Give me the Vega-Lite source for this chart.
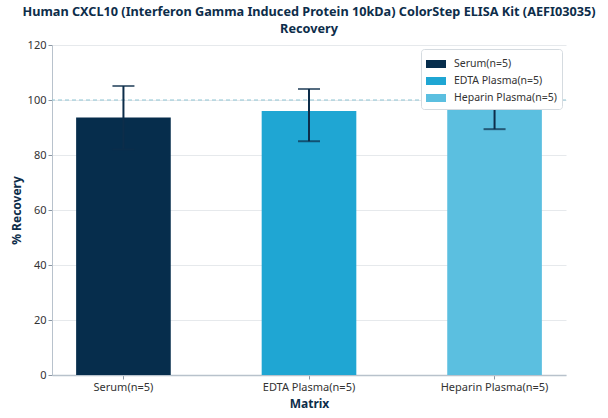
{
  "$schema": "https://vega.github.io/schema/vega-lite/v6.json",
  "width": 514,
  "height": 330,
  "autosize": {"type": "none"},
  "padding": {"left": 52, "top": 45, "right": 42, "bottom": 43},
  "background": "white",
  "config": {
    "font": "Noto Sans",
    "view": {"stroke": null},
    "axis": {"labelFont": "Noto Sans", "titleFont": "Noto Sans", "labelFontSize": 11, "labelColor": "#333333", "titleColor": "#0d2d4a", "titleFontSize": 12, "titleFontWeight": "bold", "domainColor": "#b8c2cc", "tickColor": "#8a96a3", "gridColor": "#e6e9ec"}
  },
  "title": {
    "text": ["Human CXCL10 (Interferon Gamma Induced Protein 10kDa) ColorStep ELISA Kit (AEFI03035)", "Recovery"],
    "font": "Noto Sans",
    "fontSize": 12.7,
    "fontWeight": "bold",
    "color": "#0d2d4a",
    "anchor": "middle",
    "offset": 3,
    "lineHeight": 17
  },
  "data": {
    "values": [
      {"Matrix": "Serum(n=5)", "Recovery": 93.6, "Low": 82.1, "High": 105.1},
      {"Matrix": "EDTA Plasma(n=5)", "Recovery": 96.0, "Low": 85.0, "High": 104.0},
      {"Matrix": "Heparin Plasma(n=5)", "Recovery": 96.8, "Low": 89.4, "High": 104.2}
    ]
  },
  "layer": [
    {
      "mark": {"type": "bar"},
      "encoding": {
        "x": {"field": "Matrix", "type": "nominal", "sort": ["Serum(n=5)", "EDTA Plasma(n=5)", "Heparin Plasma(n=5)"], "scale": {"paddingInner": 0.49, "paddingOuter": 0.13}, "axis": {"title": "Matrix", "labelAngle": 0, "grid": false, "domainWidth": 1.5, "tickSize": 4, "titlePadding": 6}},
        "y": {"field": "Recovery", "type": "quantitative", "scale": {"domain": [0, 120]}, "axis": {"title": "% Recovery", "values": [0, 20, 40, 60, 80, 100, 120], "tickSize": 4, "grid": true}},
        "color": {"field": "Matrix", "type": "nominal", "sort": ["Serum(n=5)", "EDTA Plasma(n=5)", "Heparin Plasma(n=5)"], "scale": {"domain": ["Serum(n=5)", "EDTA Plasma(n=5)", "Heparin Plasma(n=5)"], "range": ["#062d4c", "#1fa6d3", "#5bbfe0"]},
          "legend": {"title": null, "orient": "top-right", "offset": 4, "strokeColor": "#d5dbe0", "fillColor": "white", "padding": 5, "cornerRadius": 3, "labelFontSize": 10.5, "labelColor": "#333333", "symbolType": "M-1,-0.4H1V0.4H-1Z", "symbolSize": 400, "symbolStrokeWidth": 0, "rowPadding": 1, "labelOffset": 8}}
      }
    },
    {
      "mark": {"type": "rule", "strokeDash": [4, 3], "color": "#8ec5d3", "strokeWidth": 1},
      "data": {"values": [{"ref": 100}]},
      "encoding": {"y": {"field": "ref", "type": "quantitative"}}
    },
    {
      "mark": {"type": "rule", "color": "#0d2d4a", "strokeWidth": 2},
      "encoding": {
        "x": {"field": "Matrix", "type": "nominal", "sort": ["Serum(n=5)", "EDTA Plasma(n=5)", "Heparin Plasma(n=5)"]},
        "y": {"field": "Low", "type": "quantitative"},
        "y2": {"field": "High"}
      }
    },
    {
      "mark": {"type": "tick", "color": "#0d2d4a", "size": 22, "thickness": 2},
      "encoding": {
        "x": {"field": "Matrix", "type": "nominal", "sort": ["Serum(n=5)", "EDTA Plasma(n=5)", "Heparin Plasma(n=5)"]},
        "y": {"field": "High", "type": "quantitative"}
      }
    },
    {
      "mark": {"type": "tick", "color": "#0d2d4a", "size": 22, "thickness": 2},
      "encoding": {
        "x": {"field": "Matrix", "type": "nominal", "sort": ["Serum(n=5)", "EDTA Plasma(n=5)", "Heparin Plasma(n=5)"]},
        "y": {"field": "Low", "type": "quantitative"}
      }
    }
  ]
}
